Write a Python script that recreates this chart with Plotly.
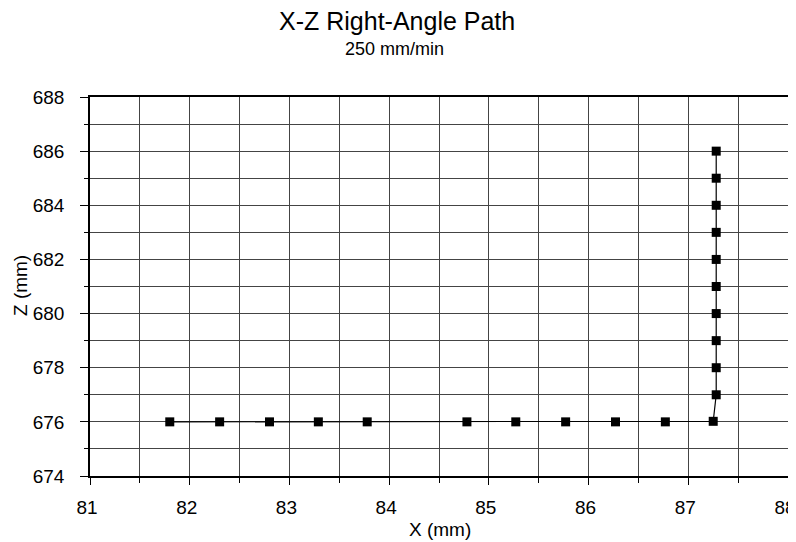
import plotly.graph_objects as go

x_mm = [81.80, 82.30, 82.80, 83.29, 83.78, 84.78, 85.27, 85.77, 86.27, 86.77, 87.25,
        87.28, 87.28, 87.28, 87.28, 87.28, 87.28, 87.28, 87.28, 87.28, 87.28]
z_mm = [676, 676, 676, 676, 676, 676, 676, 676, 676, 676, 676.02,
        677, 678, 679, 680, 681, 682, 683, 684, 685, 686]

font = "Liberation Sans, Arial, sans-serif"
OFF = 8  # default page body margin
W, H = 796 - OFF, 542 - OFF
L, T = 90 - OFF, 97 - OFF
R = 796 - 788
B = 542 - 476
pw, ph = W - L - R, H - T - B

def px_x(px):
    return (px - OFF - L) / pw

def px_y(py):
    return (H - B - (py - OFF)) / ph

fig = go.Figure()
fig.add_trace(go.Scatter(
    x=x_mm, y=z_mm, mode="lines+markers",
    line=dict(color="black", width=1.2),
    marker=dict(symbol="square", size=9, color="black"),
    showlegend=False,
))

fig.update_layout(
    width=W, height=H,
    margin=dict(l=L, r=R, t=T, b=B),
    paper_bgcolor="white", plot_bgcolor="white",
    font=dict(family=font, color="black", size=19),
)
fig.add_annotation(text="X-Z Right-Angle Path", xref="paper", yref="paper",
                   x=px_x(397), y=px_y(21), xanchor="center", yanchor="middle",
                   showarrow=False, font=dict(size=25, family=font))
fig.add_annotation(text="250 mm/min", xref="paper", yref="paper",
                   x=px_x(394), y=px_y(49), xanchor="center", yanchor="middle",
                   showarrow=False, font=dict(size=18, family=font))
fig.add_annotation(text="X (mm)", xref="paper", yref="paper",
                   x=px_x(440), y=px_y(529), xanchor="center", yanchor="middle",
                   showarrow=False, font=dict(size=19, family=font))
fig.add_annotation(text="Z (mm)", xref="paper", yref="paper", textangle=-90,
                   x=px_x(20), y=px_y(286), xanchor="center", yanchor="middle",
                   showarrow=False, font=dict(size=19, family=font))

grid = "#444444"
fig.update_xaxes(
    range=[81, 88], dtick=1, tick0=81, automargin=False,
    ticklabeloverflow="allow", ticklabelstandoff=6, ticklabelshift=-3,
    showgrid=True, gridcolor=grid, gridwidth=1,
    showline=True, linecolor="black", linewidth=1.6, mirror=True,
    ticks="outside", ticklen=7, tickcolor="black",
    minor=dict(dtick=0.5, showgrid=True, gridcolor=grid, gridwidth=1,
               ticks="outside", ticklen=5, tickcolor="black"),
    zeroline=False,
    tickfont=dict(size=19),
)
fig.update_yaxes(
    range=[674, 688], dtick=2, tick0=674, automargin=False,
    ticklabeloverflow="allow", ticklabelstandoff=12,
    showgrid=True, gridcolor=grid, gridwidth=1,
    showline=True, linecolor="black", linewidth=1.6, mirror=True,
    ticks="outside", ticklen=8, tickcolor="black",
    minor=dict(dtick=1, showgrid=True, gridcolor=grid, gridwidth=1,
               ticks="outside", ticklen=4, tickcolor="black"),
    zeroline=False,
    tickfont=dict(size=19),
)

fig.write_html("out.html")
